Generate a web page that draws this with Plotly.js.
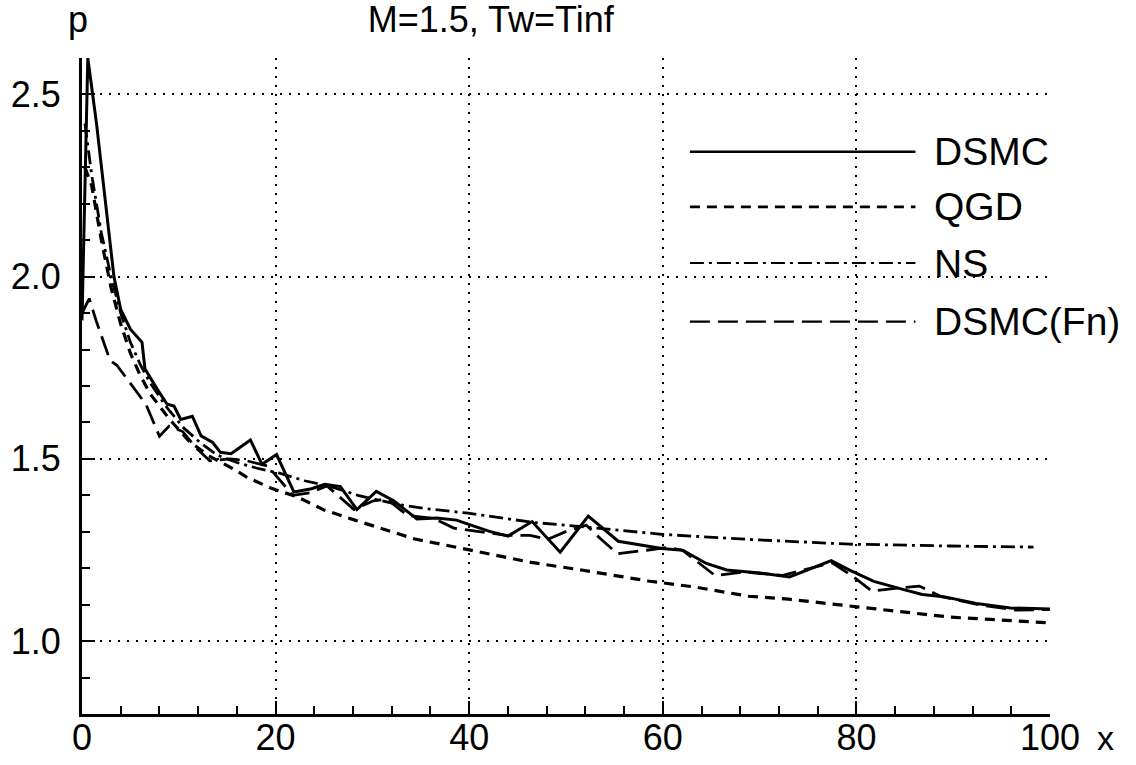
<!DOCTYPE html>
<html>
<head>
<meta charset="utf-8">
<script src="https://cdn.plot.ly/plotly-3.0.1.min.js"></script>
<style>
  html, body { margin: 0; padding: 0; background: #fff; }
  #chart { width: 1136px; height: 765px; }
</style>
</head>
<body>
<div id="chart"></div>
<script>
// ---- data ----
const chartTitle = 'M=1.5, Tw=Tinf';
const seriesNames = ['DSMC', 'QGD', 'NS', 'DSMC(Fn)'];

const dsmcX = [0, 0.6, 1.5, 2.9, 3.3, 4.0, 5.0, 6.2, 6.5, 7.8, 8.8, 9.5, 10.2, 11.4, 12.3, 13.5, 14.3, 15.4, 17.4, 18.6, 20.1, 21.9, 23.7, 25.1, 26.7, 28.4, 30.4, 32.2, 34.6, 36.6, 38.7, 40.1, 42.1, 44.0, 46.5, 49.4, 52.3, 55.4, 59.9, 62.1, 64.5, 66.6, 70.0, 73.1, 77.4, 79.3, 81.8, 84.8, 86.8, 89.0, 92.4, 95.9, 100];
const dsmcP = [1.88, 2.60, 2.42, 2.08, 2.00, 1.91, 1.856, 1.82, 1.747, 1.69, 1.65, 1.645, 1.608, 1.617, 1.563, 1.545, 1.518, 1.514, 1.552, 1.485, 1.512, 1.409, 1.418, 1.430, 1.424, 1.361, 1.411, 1.385, 1.335, 1.338, 1.332, 1.319, 1.301, 1.288, 1.328, 1.244, 1.343, 1.274, 1.254, 1.249, 1.213, 1.195, 1.187, 1.176, 1.221, 1.195, 1.164, 1.142, 1.128, 1.122, 1.103, 1.091, 1.088];

const qgdX = [0.3, 1.0, 2.0, 3.0, 4.0, 5.0, 6.0, 7.0, 9.0, 11.0, 13.0, 15.8, 17.0, 19.5, 22.3, 25.0, 28.2, 34.4, 39.9, 46.4, 51.6, 58.5, 63.4, 68.9, 73.0, 79.5, 89.6, 100];
const qgdP = [2.30, 2.25, 2.10, 1.97, 1.87, 1.79, 1.73, 1.68, 1.61, 1.55, 1.51, 1.47, 1.45, 1.42, 1.395, 1.36, 1.332, 1.28, 1.251, 1.216, 1.195, 1.165, 1.148, 1.123, 1.115, 1.095, 1.066, 1.05];

const nsX = [0.3, 1.0, 2.0, 3.0, 4.0, 5.0, 6.0, 7.0, 8.8, 10.5, 12.2, 14.0, 16.0, 18.0, 20.5, 23.0, 25.7, 28.5, 32.6, 36.0, 39.9, 46.5, 51.6, 59.9, 68.9, 79.3, 89.6, 98.3];
const nsP = [2.42, 2.28, 2.12, 2.00, 1.90, 1.82, 1.76, 1.71, 1.64, 1.585, 1.545, 1.51, 1.49, 1.475, 1.46, 1.44, 1.424, 1.40, 1.375, 1.362, 1.351, 1.326, 1.314, 1.293, 1.279, 1.266, 1.261, 1.258];

const fnX = [0, 0.75, 1.45, 2.9, 3.6, 5.1, 6.6, 8.0, 9.0, 10.4, 11.8, 13.2, 15.3, 17.0, 19.2, 21.8, 23.6, 25.3, 28.1, 30.1, 31.5, 33.6, 36.3, 38.4, 41.2, 43.9, 46.3, 48.1, 50.2, 52.1, 53.6, 55.3, 58.5, 60.5, 62.0, 65.4, 68.5, 72.3, 77.5, 79.5, 81.6, 84.0, 86.5, 88.8, 93.0, 96.5, 100];
const fnP = [1.90, 1.94, 1.88, 1.77, 1.757, 1.705, 1.65, 1.562, 1.59, 1.575, 1.53, 1.495, 1.50, 1.495, 1.48, 1.40, 1.407, 1.426, 1.361, 1.385, 1.39, 1.345, 1.337, 1.31, 1.30, 1.29, 1.29, 1.279, 1.303, 1.318, 1.28, 1.24, 1.25, 1.257, 1.25, 1.18, 1.19, 1.18, 1.215, 1.18, 1.137, 1.145, 1.151, 1.122, 1.098, 1.085, 1.087];

const xTickVals = [0, 20, 40, 60, 80, 100];
const yTickVals = [1.0, 1.5, 2.0, 2.5];

// ---- styling ----
const FONT = 'Liberation Sans, Arial, Helvetica, sans-serif';
const dashes = {
  'DSMC': 'solid',
  'QGD': '10px,7px',
  'NS': '14px,5px,3px,5px',
  'DSMC(Fn)': '20px,8px'
};
const widths = { 'DSMC': 3, 'QGD': 3.2, 'NS': 2.8, 'DSMC(Fn)': 2.8 };

function mk(name, x, y) {
  return {
    type: 'scatter', mode: 'lines', name: name, x: x, y: y,
    line: { color: '#000', width: widths[name], dash: dashes[name] },
    showlegend: false, hoverinfo: 'skip'
  };
}

const traces = [
  mk('NS', nsX, nsP),
  mk('QGD', qgdX, qgdP),
  mk('DSMC(Fn)', fnX, fnP),
  mk('DSMC', dsmcX, dsmcP)
];

// custom legend (long sample lines, labels to the right)
const legY = [0.857, 0.773, 0.6875, 0.598];
const shapes = [];
const annotations = [];
seriesNames.forEach((n, i) => {
  shapes.push({
    type: 'line', xref: 'paper', yref: 'paper',
    x0: 0.628, x1: 0.861, y0: legY[i], y1: legY[i],
    line: { color: '#000', width: widths[n] - 0.6, dash: dashes[n] }
  });
  annotations.push({
    xref: 'paper', yref: 'paper', x: 0.878, y: legY[i],
    xanchor: 'left', yanchor: 'middle', showarrow: false,
    text: n, font: { family: FONT, size: 39, color: '#000' }
  });
});
annotations.push({
  xref: 'paper', yref: 'paper', x: -0.004, y: 1.024, xanchor: 'center', yanchor: 'bottom',
  showarrow: false, text: 'p', font: { family: FONT, size: 36, color: '#000' }
});
annotations.push({
  xref: 'paper', yref: 'paper', x: 1.057, y: -0.004, xanchor: 'center', yanchor: 'top',
  showarrow: false, text: 'x', font: { family: FONT, size: 34, color: '#000' }
});

const layout = {
  width: 1136, height: 765,
  paper_bgcolor: '#fff', plot_bgcolor: '#fff',
  margin: { l: 82, r: 86, t: 58, b: 51 },
  title: {
    text: chartTitle, x: 0.432, xanchor: 'center', y: 0.975, yanchor: 'middle',
    font: { family: FONT, size: 36, color: '#000' }
  },
  xaxis: {
    range: [0, 100], tickvals: xTickVals, ticktext: xTickVals.map(String),
    showline: true, linecolor: '#000', linewidth: 3,
    ticks: 'inside', ticklen: 13, tickwidth: 2, tickcolor: '#000',
    minor: { dtick: 4, tick0: 0, ticks: 'inside', ticklen: 8, tickwidth: 2, tickcolor: '#000', showgrid: false },
    showgrid: true, gridcolor: '#000', gridwidth: 2, griddash: '2px,7px',
    zeroline: false,
    tickfont: { family: FONT, size: 36, color: '#000' },
    ticklabelstandoff: -10
  },
  yaxis: {
    range: [0.8, 2.6], tickvals: yTickVals, ticktext: yTickVals.map(v => v.toFixed(1)),
    showline: true, linecolor: '#000', linewidth: 3,
    ticks: 'inside', ticklen: 13, tickwidth: 2, tickcolor: '#000',
    minor: { dtick: 0.1, tick0: 0, ticks: 'inside', ticklen: 8, tickwidth: 2, tickcolor: '#000', showgrid: false },
    showgrid: true, gridcolor: '#000', gridwidth: 2, griddash: '2px,7px',
    zeroline: false,
    tickfont: { family: FONT, size: 36, color: '#000' },
    ticklabelstandoff: 11
  },
  shapes: shapes,
  annotations: annotations
};

Plotly.newPlot('chart', traces, layout, { displayModeBar: false, staticPlot: true });
</script>
</body>
</html>
